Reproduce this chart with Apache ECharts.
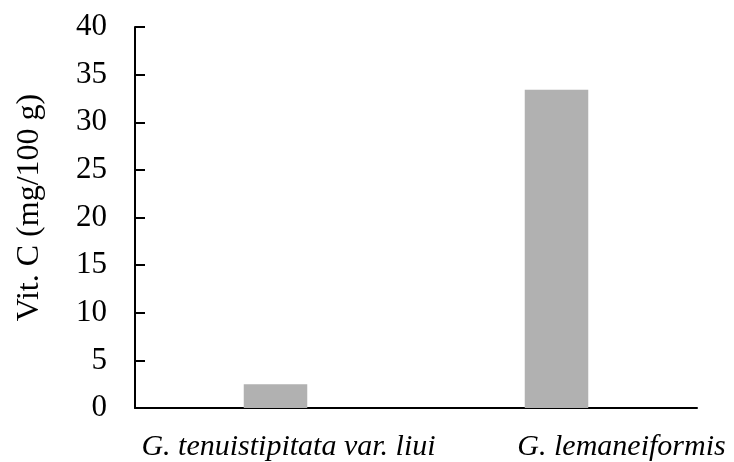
<!DOCTYPE html>
<html>
<head>
<meta charset="utf-8">
<script src="https://cdn.jsdelivr.net/npm/echarts@6/dist/echarts.min.js"></script>
<style>
  html, body { margin: 0; padding: 0; background: #fff; }
  #chart { width: 734px; height: 462px; }
</style>
</head>
<body>
<div id="chart"></div>
<script>
// 类别和数据
var categories = ['G. tenuistipitata var. liui', 'G. lemaneiformis'];
var vitC = [2.5, 33.4];
var yTicks = [0, 5, 10, 15, 20, 25, 30, 35, 40];
// 标签在原图中相对柱子中心向右偏移
var labelPad = [26, 130];

var myChart = echarts.init(document.getElementById('chart'));
var font = "'Liberation Serif', 'Times New Roman', serif";
var option = {
  animation: false,
  grid: {
    left: 135,
    right: 37,
    top: 27,
    bottom: 54,
    outerBoundsMode: 'none'
  },
  xAxis: {
    type: 'category',
    data: categories.map(function (c, i) {
      return { value: c, textStyle: { padding: [0, 0, 0, labelPad[i]] } };
    }),
    axisTick: { show: false },
    axisLine: { lineStyle: { color: '#000', width: 2 } },
    axisLabel: {
      interval: 0,
      color: '#000',
      fontFamily: font,
      fontStyle: 'italic',
      fontSize: 30,
      margin: 24
    }
  },
  yAxis: {
    type: 'value',
    min: yTicks[0],
    max: yTicks[yTicks.length - 1],
    interval: 5,
    name: 'Vit. C (mg/100 g)',
    nameLocation: 'middle',
    nameGap: 89,
    nameTextStyle: { color: '#000', fontFamily: font, fontSize: 32, padding: [0, 0, 0, 20] },
    axisLine: { show: true, lineStyle: { color: '#000', width: 2 } },
    axisTick: { show: true, inside: true, length: 10, lineStyle: { color: '#000', width: 2 } },
    splitLine: { show: false },
    axisLabel: { color: '#000', fontFamily: font, fontSize: 31, margin: 28 }
  },
  series: [{
    type: 'bar',
    data: vitC,
    barWidth: '22.6%',
    itemStyle: { color: '#b1b1b1' }
  }]
};
myChart.setOption(option);
</script>
</body>
</html>
